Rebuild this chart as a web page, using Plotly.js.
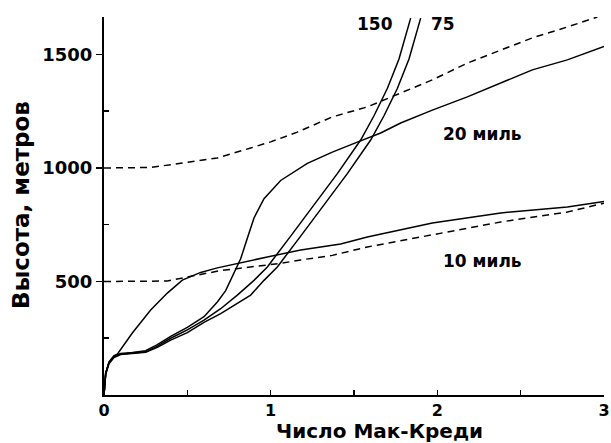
<!DOCTYPE html>
<html>
<head>
<meta charset="utf-8">
<script src="https://cdn.plot.ly/plotly-3.0.1.min.js"></script>
<style>html,body{margin:0;padding:0;background:#fff}#chart{width:611px;height:443px}</style>
</head>
<body>
<div id="chart"></div>
<script>
// Solid 10-mile curve
const s10X = [0,0.01,0.03,0.06,0.08,0.11,0.17,0.28,0.38,0.47,0.58,0.68,0.78,0.98,1.18,1.42,1.58,1.97,2.38,2.78,3.0];
const s10Y = [0,95,145,172,180,211,273,374,449,506,540,560,575,608,639,665,696,758,802,828,852];
// Dashed 10-mile curve
const d10X = [0,0.2,0.38,0.5,0.58,0.7,0.78,0.9,1.07,1.18,1.37,1.58,1.97,2.38,2.78,3.0];
const d10Y = [500,500,502,520,532,548,555,565,581,595,615,652,705,762,806,845];
// Solid 20-mile curve
const s20X = [0,0.01,0.03,0.06,0.1,0.17,0.25,0.32,0.4,0.5,0.6,0.68,0.73,0.77,0.82,0.86,0.9,0.96,1.06,1.22,1.37,1.52,1.66,1.78,1.97,2.18,2.38,2.57,2.78,3.0];
const s20Y = [0,95,145,172,183,187,195,222,258,298,345,410,460,525,600,690,780,865,945,1020,1070,1114,1154,1198,1255,1313,1374,1432,1476,1535];
// Dashed 20-mile curve
const d20X = [0,0.28,0.47,0.68,0.88,1.0,1.16,1.37,1.58,1.78,1.97,2.18,2.38,2.57,2.78,2.96];
const d20Y = [1000,1002,1022,1044,1088,1115,1158,1225,1269,1330,1388,1462,1520,1573,1621,1665];
// Curve "150"
const c150X = [0,0.01,0.03,0.06,0.1,0.17,0.25,0.32,0.4,0.5,0.6,0.7,0.8,0.9,0.98,1.12,1.25,1.4,1.54,1.62,1.7,1.77,1.84];
const c150Y = [0,95,142,168,180,184,190,215,250,287,330,380,440,505,564,700,828,975,1123,1230,1350,1480,1660];
// Curve "75"
const c75X = [0,0.01,0.03,0.06,0.1,0.17,0.25,0.32,0.4,0.5,0.6,0.7,0.8,0.88,0.96,1.04,1.18,1.31,1.46,1.6,1.68,1.76,1.83,1.9];
const c75Y = [0,90,138,165,178,182,188,210,242,275,320,358,405,440,505,564,700,828,975,1123,1230,1350,1480,1660];

const xTickVals = [0,1,2,3];
const xTickText = ['0','1','2','3'];
const yTickVals = [500,1000,1500];
const yTickText = ['500','1000','1500'];
const yMinorVals = [250,750,1250];

const labels = [
  {text:'150', x:1.626, y:1634},
  {text:'75', x:2.034, y:1634},
  {text:'20 миль', x:2.27, y:1150},
  {text:'10 миль', x:2.27, y:590}
];

const solid = {color:'#000', width:1.5};
const dashed = {color:'#000', width:1.5, dash:'7px,5px'};
const traces = [
  {x:s10X, y:s10Y, mode:'lines', line:solid},
  {x:d10X, y:d10Y, mode:'lines', line:dashed},
  {x:s20X, y:s20Y, mode:'lines', line:solid},
  {x:d20X, y:d20Y, mode:'lines', line:dashed},
  {x:c150X, y:c150Y, mode:'lines', line:solid},
  {x:c75X, y:c75Y, mode:'lines', line:solid}
];

const font = 'DejaVu Sans, Verdana, sans-serif';
const layout = {
  width:611, height:443,
  margin:{l:104, r:7, t:17, b:48},
  paper_bgcolor:'#fff', plot_bgcolor:'#fff',
  showlegend:false,
  font:{family:font, color:'#000'},
  xaxis:{
    range:[0,3], showgrid:false, zeroline:false,
    showline:true, linecolor:'#000', linewidth:2,
    tickmode:'array', tickvals:xTickVals, ticktext:xTickText,
    ticks:'inside', ticklen:5, tickwidth:1.5, tickcolor:'#000',
    minor:{tickvals:[0.5,1.5,2.5], ticks:'inside', ticklen:5, tickwidth:1.5, tickcolor:'#000'},
    tickfont:{family:font, size:16, weight:'bold'}
  },
  yaxis:{
    range:[0,1665], showgrid:false, zeroline:false,
    showline:true, linecolor:'#000', linewidth:2,
    tickmode:'array', tickvals:yTickVals, ticktext:yTickText,
    ticks:'outside', ticklen:6, tickwidth:1.5, tickcolor:'#000',
    minor:{tickvals:yMinorVals, ticks:'inside', ticklen:5, tickwidth:1.5, tickcolor:'#000'},
    tickfont:{family:font, size:18, weight:'bold'}
  },
  annotations: labels.map(l => ({
    text:l.text, x:l.x, y:l.y, xref:'x', yref:'y', showarrow:false,
    xanchor:'center', yanchor:'middle',
    font:{family:font, size:17, weight:'bold', color:'#000'}
  })).concat([
    {text:'Число Мак-Креди', xref:'paper', yref:'paper', x:(379-104)/500, y:-(431-395)/378,
     xanchor:'center', yanchor:'middle',
     showarrow:false, font:{family:font, size:20, weight:'bold', color:'#000'}},
    {text:'Высота, метров', xref:'paper', yref:'paper', x:-(104-21)/500, y:(395-205)/378,
     xanchor:'center', yanchor:'middle',
     textangle:-90, showarrow:false, font:{family:font, size:23, weight:'bold', color:'#000'}}
  ])
};

Plotly.newPlot('chart', traces, layout, {displayModeBar:false, staticPlot:true});
</script>
</body>
</html>
